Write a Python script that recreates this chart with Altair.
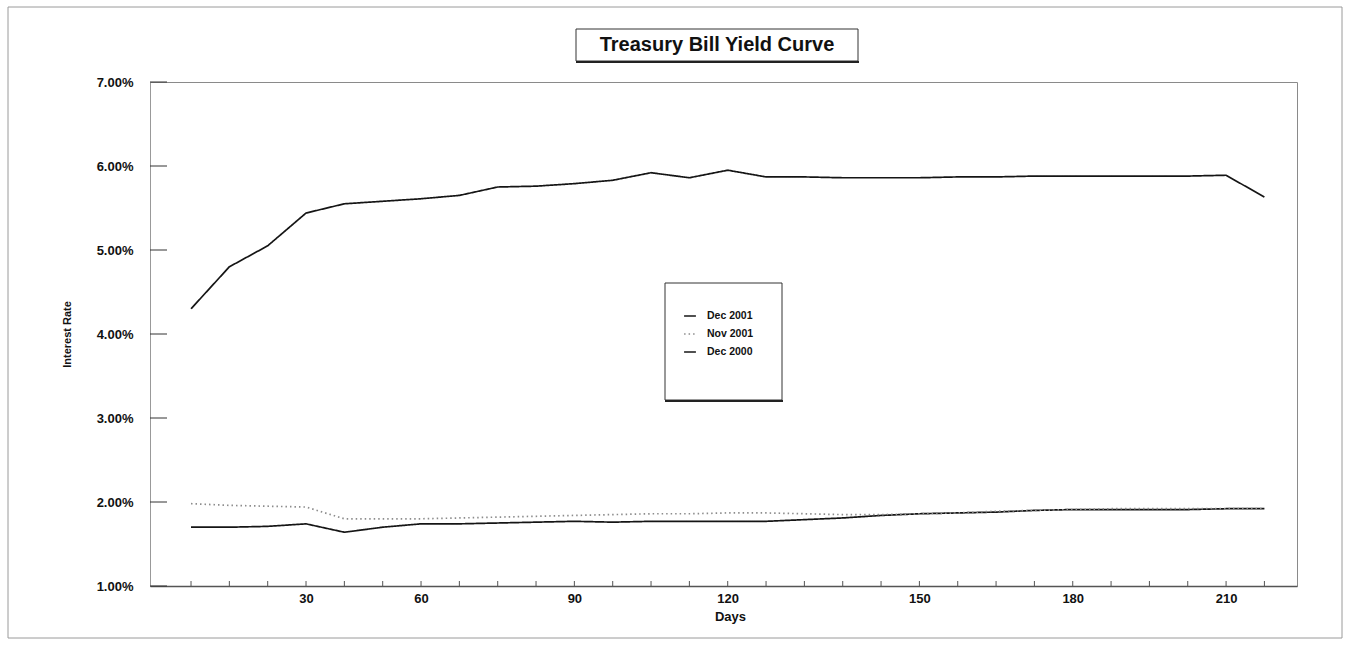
import altair as alt
import pandas as pd

series = ["Dec 2001", "Nov 2001", "Dec 2000"]
dec2001 = [1.70, 1.70, 1.71, 1.74, 1.64, 1.70, 1.74, 1.74, 1.75, 1.76, 1.77, 1.76, 1.77, 1.77, 1.77,
           1.77, 1.79, 1.81, 1.84, 1.86, 1.87, 1.88, 1.90, 1.91, 1.91, 1.91, 1.91, 1.92, 1.92]
nov2001 = [1.98, 1.96, 1.95, 1.94, 1.80, 1.80, 1.80, 1.81, 1.82, 1.83, 1.84, 1.85, 1.86, 1.86, 1.87,
           1.87, 1.86, 1.85, 1.85, 1.86, 1.87, 1.89, 1.90, 1.91, 1.92, 1.92, 1.92, 1.92, 1.92]
dec2000 = [4.30, 4.80, 5.05, 5.44, 5.55, 5.58, 5.61, 5.65, 5.75, 5.76, 5.79, 5.83, 5.92, 5.86, 5.95,
           5.87, 5.87, 5.86, 5.86, 5.86, 5.87, 5.87, 5.88, 5.88, 5.88, 5.88, 5.88, 5.89, 5.63]
tick_index = [3, 6, 10, 14, 19, 23, 27]
tick_days = [30, 60, 90, 120, 150, 180, 210]
y_ticks = [0.01, 0.02, 0.03, 0.04, 0.05, 0.06, 0.07]

rows = []
for name, vals in zip(series, [dec2001, nov2001, dec2000]):
    for i, v in enumerate(vals):
        rows.append({"idx": i, "rate": v / 100.0, "series": name})
df = pd.DataFrame(rows)
cats = pd.DataFrame({"idx": list(range(len(dec2000)))})
yt = pd.DataFrame({"rate": y_ticks})

W, H = 1147, 504
FONT = "Liberation Sans"
xscale = alt.Scale(domain=[-1.07, 28.85], nice=False, zero=False)
yscale = alt.Scale(domain=[0.01, 0.07], nice=False, zero=False)

label_expr = " : ".join(f"datum.value == {i} ? '{d}'" for i, d in zip(tick_index, tick_days)) + " : ''"

lines = alt.Chart(df).mark_line(strokeWidth=1.7).encode(
    x=alt.X("idx:Q", scale=xscale,
            axis=alt.Axis(title="Days", values=tick_index, labelExpr=label_expr, ticks=False,
                          grid=False, labelFont=FONT, labelFontSize=13, labelFontWeight="bold",
                          labelPadding=6, titleFont=FONT, titleFontSize=13, titleFontWeight="bold",
                          titleX=580, titleY=30, titleBaseline="middle",
                          domainColor="#555", domainWidth=1.5, labelColor="#111", titleColor="#111")),
    y=alt.Y("rate:Q", scale=yscale,
            axis=alt.Axis(title="Interest Rate", values=y_ticks, format=".2%", ticks=False, grid=False,
                          labelFont=FONT, labelFontSize=13, labelFontWeight="bold", labelPadding=17,
                          titleFont=FONT, titleFontSize=11, titleFontWeight="bold",
                          titleX=-83, titleY=252, titleBaseline="middle",
                          domainColor="#999", domainWidth=1, labelColor="#111", titleColor="#111")),
    color=alt.Color("series:N", scale=alt.Scale(domain=series, range=["#151515", "#8c8c8c", "#151515"]),
                    legend=alt.Legend(orient="none", legendX=533, legendY=227, title=None,
                                      symbolType="stroke", symbolSize=140, symbolStrokeWidth=1.5,
                                      labelFont=FONT, labelFontSize=10.5, labelFontWeight="bold",
                                      labelOffset=10, rowPadding=5, padding=0, labelColor="#111")),
    strokeDash=alt.StrokeDash("series:N", scale=alt.Scale(domain=series, range=[[1, 0], [1.5, 3], [1, 0]]),
                              legend=None),
    detail="series:N",
)

xticks = alt.Chart(cats).mark_rule(color="#555", strokeWidth=1).encode(
    x=alt.X("idx:Q", scale=xscale), y=alt.value(H), y2=alt.value(H - 5))
yticks = alt.Chart(yt).mark_rule(color="#333", strokeWidth=1).encode(
    y=alt.Y("rate:Q", scale=yscale), x=alt.value(0), x2=alt.value(17))

one = alt.Data(values=[{"t": "Treasury Bill Yield Curve"}])
title_box = alt.Chart(one).mark_rect(fill="white", stroke="#333", strokeWidth=1).encode(
    x=alt.value(426), x2=alt.value(708), y=alt.value(-53), y2=alt.value(-21))
title_shadow = alt.Chart(one).mark_rule(color="#222", strokeWidth=2).encode(
    x=alt.value(426), x2=alt.value(709), y=alt.value(-20))
title_text = alt.Chart(one).mark_text(font=FONT, fontSize=20, fontWeight="bold", color="#111",
                                      baseline="middle", align="center").encode(
    x=alt.value(567), y=alt.value(-37), text="t:N")
legend_box = alt.Chart(one).mark_rect(fill="white", stroke="#333", strokeWidth=1).encode(
    x=alt.value(515), x2=alt.value(632), y=alt.value(201), y2=alt.value(318))
legend_shadow = alt.Chart(one).mark_rule(color="#222", strokeWidth=2).encode(
    x=alt.value(515), x2=alt.value(633), y=alt.value(319))
outer = alt.Chart(one).mark_rect(fill=None, filled=False, stroke="#9a9a9a", strokeWidth=1).encode(
    x=alt.value(-142), x2=alt.value(1192), y=alt.value(-75), y2=alt.value(556))

chart = alt.layer(outer, title_box, title_shadow, title_text, legend_box, legend_shadow,
                  lines, xticks, yticks).properties(
    width=W, height=H,
    autosize=alt.AutoSizeParams(type="none"),
    padding={"left": 150, "top": 82, "right": 51, "bottom": 60},
    background="white",
).configure_view(stroke="#8a8a8a", strokeWidth=1)

chart.save("out.html", embed_options={"renderer": "svg", "actions": False})
